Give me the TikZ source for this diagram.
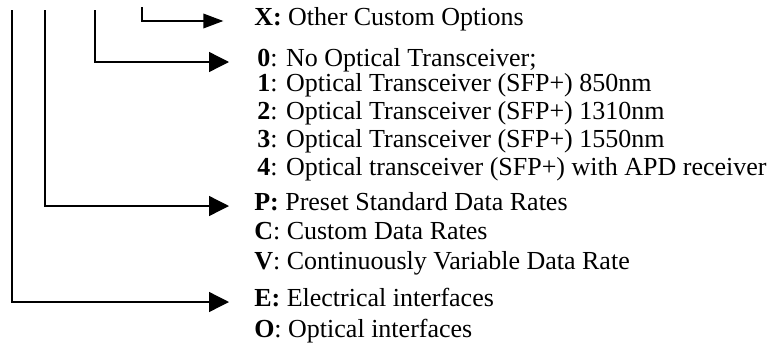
\documentclass[tikz,border=0pt]{standalone}
\usepackage{fontspec}
\setmainfont{Liberation Serif}
\usetikzlibrary{arrows.meta}

\tikzset{
  codeline/.style={line width=1pt, -{Triangle[length=15pt,width=15pt]}},
  optitem/.style={anchor=west, inner sep=0pt, text height=0.66em, text depth=0pt,
    font=\fontsize{19.5}{23}\selectfont}
}

\begin{document}
\begin{tikzpicture}[x=0.75pt, y=-0.75pt]
  \useasboundingbox (0,0) rectangle (773,347);
  % custom options
  \node[optitem] (optX) at (254,21) {\textbf{X:} Other Custom Options};
  % transceiver
  \node[optitem] (opt0) at (257,62) {\textbf{0}: No Optical Transceiver;};
  \node[optitem] (opt1) at (257,87) {\textbf{1}: Optical Transceiver (SFP+) 850nm};
  \node[optitem] (opt2) at (257,115) {\textbf{2}: Optical Transceiver (SFP+) 1310nm};
  \node[optitem] (opt3) at (257,143) {\textbf{3}: Optical Transceiver (SFP+) 1550nm};
  \node[optitem] (opt4) at (257,171) {\textbf{4}: Optical transceiver (SFP+) with APD receiver};
  % data rates
  \node[optitem] (optP) at (254,206) {\textbf{P:} Preset Standard Data Rates};
  \node[optitem] (optC) at (254,235) {\textbf{C}: Custom Data Rates};
  \node[optitem] (optV) at (254,265) {\textbf{V}: Continuously Variable Data Rate};
  % interfaces
  \node[optitem] (optE) at (254,302) {\textbf{E:} Electrical interfaces};
  \node[optitem] (optO) at (254,333) {\textbf{O}: Optical interfaces};
  % code positions
  \coordinate (codeE) at (12,10);
  \coordinate (codeP) at (45,10);
  \coordinate (code0) at (95,10);
  \coordinate (codeX) at (142,7);
  \draw[codeline, -{Triangle[length=15pt,width=11pt]}, shorten >=23pt] (codeX) |- (optX.west);
  \draw[codeline, shorten >=21pt] (code0) |- (opt0.west);
  \draw[codeline, shorten >=18.75pt] (codeP) |- (optP.west);
  \draw[codeline, shorten >=18.75pt] (codeE) |- (optE.west);
\end{tikzpicture}
\end{document}
